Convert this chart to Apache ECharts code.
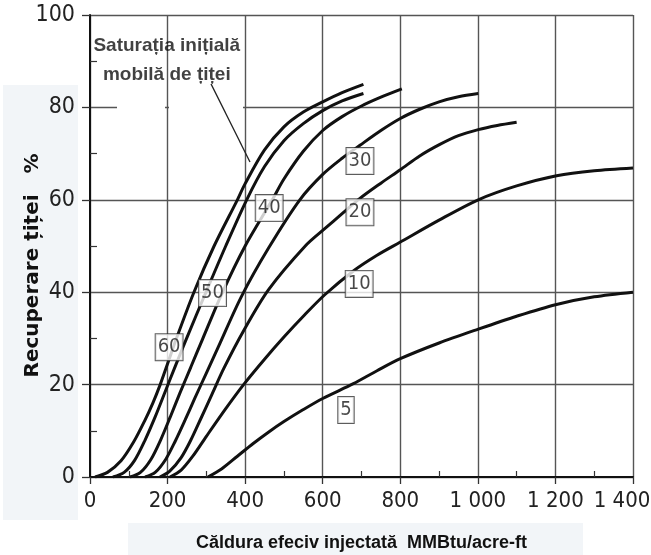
<!DOCTYPE html>
<html>
<head>
<meta charset="utf-8">
<script src="https://cdn.jsdelivr.net/npm/echarts@6/dist/echarts.min.js"></script>
<style>html,body{margin:0;padding:0;background:#fff;}#c{width:651px;height:555px;}</style>
</head>
<body>
<div id="c"></div>
<script>
// ---- data ----
const curveNames = ['60', '50', '40', '30', '20', '10', '5'];
const s60 = [[13,0],[45,1],[80,3.5],[112,7.5],[140,12],[162,16],[181,20],[200,24.5],[222,29.8],[268,40],[320,50],[380,60],[400,63.5],[450,70.8],[500,75.8],[550,79],[600,81.2],[650,83.2],[705,85]];
const s50 = [[59,0],[88,1],[115,3.6],[142,8],[168,13],[194,18.5],[220,24],[248,29.8],[300,40.2],[350,50],[404,60],[450,67.2],[500,72.8],[550,76.5],[600,79.3],[650,81.4],[705,83]];
const s40 = [[103,0],[130,1],[157,3.8],[182,8],[207,13],[232,18.2],[260,23.8],[290,29.8],[339,39.5],[400,50],[470,60],[500,64.5],[550,70.5],[600,75],[650,78],[700,80.3],[750,82.2],[804,84]];
const s30 = [[142,0],[168,1],[195,3.8],[220,7.8],[245,12.3],[270,17],[300,22.5],[330,28],[390,39],[460,49.5],[541,60],[600,65.5],[650,69],[696,71.8],[750,75],[800,77.6],[850,79.6],[900,81.2],[950,82.3],[1001,83]];
const s20 = [[180,0],[205,1.2],[235,4.2],[260,8],[285,12.5],[315,18],[345,23.5],[395,31.5],[460,40.5],[555,50],[606,53.8],[650,57],[696,60.3],[750,63.6],[800,66.5],[850,69.5],[902,72],[950,73.9],[1001,75.2],[1050,76.1],[1100,76.8]];
const s10 = [[206,0],[235,1.5],[265,4.5],[300,8.8],[350,14.8],[396,20],[450,25.5],[500,30.3],[550,34.8],[606,39.5],[679,44.6],[740,48],[799,50.8],[900,55.6],[1001,60],[1100,63],[1203,65.2],[1300,66.3],[1400,66.9]];
const s5  = [[304,0],[340,1.8],[380,4.5],[420,7.2],[460,9.7],[500,12],[550,14.6],[600,17],[679,20.2],[740,23],[800,25.6],[900,29],[1001,32],[1100,34.8],[1200,37.3],[1300,39],[1400,40]];
const curveData = [s60, s50, s40, s30, s20, s10, s5];
// label boxes placed next to curves (data coordinates)
const labelAnchors = [[204,28.1],[316,39.8],[462,58.2],[696,68.4],[696,57.3],[694,41.8],[660,14.5]];
const xTickLabels = ['0','200','400','600','800','1 000','1 200','1 400'];
const yTickLabels = ['0','20','40','60','80','100'];
const annotationText = 'Saturația inițială\nmobilă de țiței';
const annotationAnchor = [198, 90.3];
const arrowFrom = [312, 85.1];
const arrowTo = [412.5, 68.2];
const xTitle = 'Căldura efeciv injectată  MMBtu/acre-ft';
const yTitle = 'Recuperare țiței   %';

// ---- chart ----
const narrow = "'Liberation Sans Narrow', 'DejaVu Sans Condensed', 'Liberation Sans', Arial, sans-serif";
const chart = echarts.init(document.getElementById('c'), null, {renderer: 'canvas'});

const series = curveData.map((d, i) => ({
  name: curveNames[i],
  type: 'line',
  data: d,
  showSymbol: false,
  smooth: 0.3,
  lineStyle: {color: '#111', width: 3},
  z: 3,
  silent: true
}));

series.push({
  type: 'scatter',
  data: labelAnchors.map((p, i) => ({value: p, name: curveNames[i]})),
  symbolSize: 1,
  itemStyle: {color: 'rgba(0,0,0,0)'},
  z: 6,
  silent: true,
  label: {
    show: true, position: 'inside', formatter: '{b}',
    fontFamily: narrow, fontSize: 20, color: '#1a1a1a',
    backgroundColor: '#fff', borderColor: '#333', borderWidth: 1,
    padding: [4, 2, 2, 2]
  }
});

series.push({
  type: 'scatter',
  data: [annotationAnchor],
  symbolSize: 1,
  itemStyle: {color: 'rgba(0,0,0,0)'},
  z: 6,
  silent: true,
  label: {
    show: true, position: 'inside', formatter: annotationText,
    fontFamily: "'Liberation Sans', Arial, sans-serif", fontWeight: 'bold',
    fontSize: 19, lineHeight: 29, color: '#111', align: 'center'
  },
  markLine: {
    silent: true,
    symbol: ['none', 'arrow'],
    symbolSize: [0, 10],
    label: {show: false},
    lineStyle: {color: '#222', width: 1.3, type: 'solid'},
    data: [[{coord: arrowFrom}, {coord: arrowTo}]]
  }
});

chart.setOption({
  animation: false,
  backgroundColor: '#fff',
  grid: {left: 90, right: 18, top: 15, bottom: 78, containLabel: false, outerBoundsMode: 'none'},
  graphic: [
    {type: 'rect', shape: {x: 3, y: 85, width: 75, height: 435}, style: {fill: '#f2f5f8'}, z: -10, silent: true},
    {type: 'rect', shape: {x: 128, y: 523, width: 455, height: 32}, style: {fill: '#f2f5f8'}, z: -10, silent: true},
    {type: 'rect', shape: {x: 117, y: 104, width: 48, height: 7}, style: {fill: '#fff'}, z: 1, silent: true},
    {type: 'rect', shape: {x: 169, y: 104, width: 74, height: 7}, style: {fill: '#fff'}, z: 1, silent: true}
  ],
  xAxis: {
    type: 'value', min: 0, max: 1400, interval: 200,
    name: xTitle, nameLocation: 'middle', nameGap: 57, nameMoveOverlap: false,
    nameTextStyle: {fontFamily: "'Liberation Sans', Arial, sans-serif", fontWeight: 'bold', fontSize: 18, color: '#111'},
    axisLine: {show: true, onZero: false, lineStyle: {color: '#111', width: 2}},
    axisTick: {show: true, length: 7, lineStyle: {color: '#333', width: 1.3}},
    minorTick: {show: true, splitNumber: 2, length: -6, lineStyle: {color: '#333', width: 1.2}},
    splitLine: {show: true, lineStyle: {color: '#555', width: 1.4}},
    axisLabel: {
      margin: 13, fontFamily: narrow, fontSize: 22, color: '#222',
      hideOverlap: false,
      formatter: function (v) {
        const i = Math.round(v / 200);
        const t = xTickLabels[i];
        return i === xTickLabels.length - 1 ? '{last|' + t + '}' : t;
      },
      rich: {last: {fontFamily: narrow, fontSize: 22, color: '#222', padding: [0, 22, 0, 0]}}
    }
  },
  yAxis: {
    type: 'value', min: 0, max: 100, interval: 20,
    name: yTitle, nameLocation: 'middle', nameGap: 47, nameRotate: 90, nameMoveOverlap: false,
    nameTextStyle: {fontFamily: "'DejaVu Sans', sans-serif", fontWeight: 'bold', fontSize: 20, color: '#111', padding: [0, 39, 0, 0]},
    axisLine: {show: true, onZero: false, lineStyle: {color: '#111', width: 2}},
    axisTick: {show: true, length: 8, lineStyle: {color: '#333', width: 1.3}},
    minorTick: {show: true, splitNumber: 2, length: -7, lineStyle: {color: '#333', width: 1.2}},
    splitLine: {show: true, lineStyle: {color: '#555', width: 1.4}},
    axisLabel: {
      margin: 15, fontFamily: narrow, fontSize: 23, color: '#222',
      formatter: function (v) { return yTickLabels[Math.round(v / 20)]; }
    }
  },
  series: series
});
</script>
</body>
</html>
